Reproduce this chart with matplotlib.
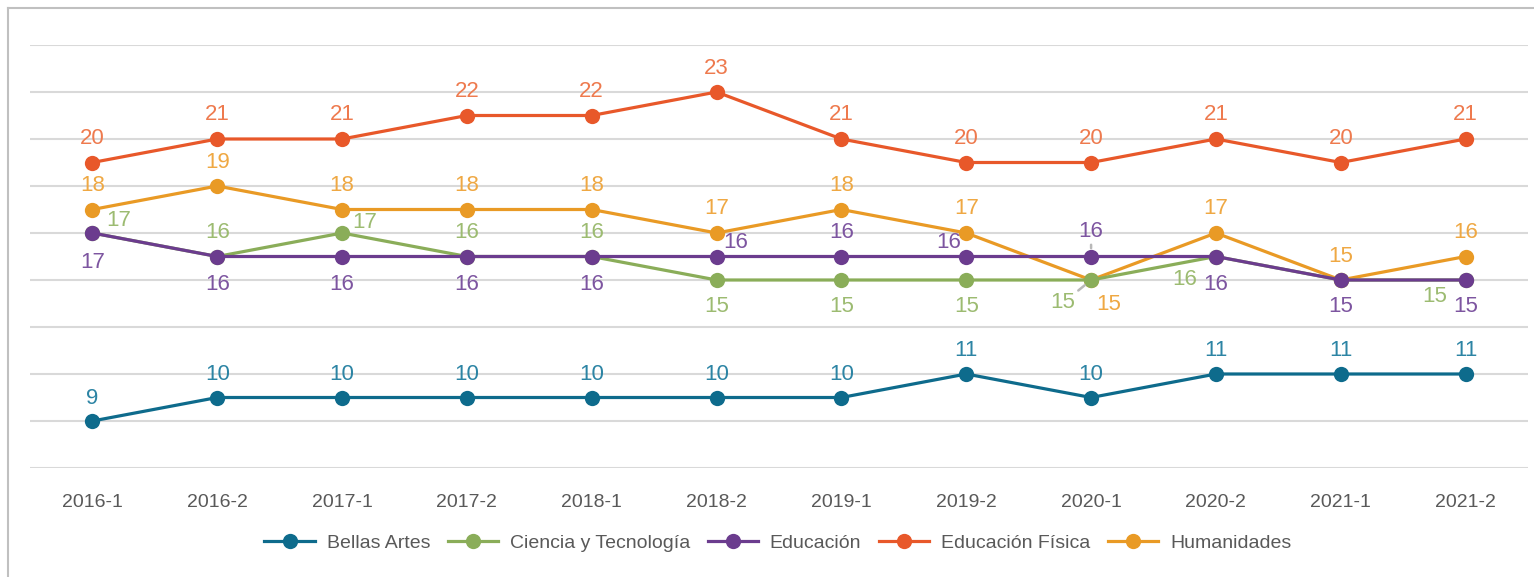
import matplotlib.pyplot as plt
from matplotlib.lines import Line2D

# periods on the x axis
periods = ['2016-1', '2016-2', '2017-1', '2017-2', '2018-1', '2018-2',
           '2019-1', '2019-2', '2020-1', '2020-2', '2021-1', '2021-2']

bellas_artes = [9, 10, 10, 10, 10, 10, 10, 11, 10, 11, 11, 11]
ciencia_tec = [17, 16, 17, 16, 16, 15, 15, 15, 15, 16, 15, 15]
educacion = [17, 16, 16, 16, 16, 16, 16, 16, 16, 16, 15, 15]
educ_fisica = [20, 21, 21, 22, 22, 23, 21, 20, 20, 21, 20, 21]
humanidades = [18, 19, 18, 18, 18, 17, 18, 17, 15, 17, 15, 16]

names = ['Bellas Artes', 'Ciencia y Tecnología', 'Educación',
         'Educación Física', 'Humanidades']

FONT = ['Liberation Sans Narrow', 'Liberation Sans', 'DejaVu Sans']
plt.rcParams['font.family'] = FONT

# (line colour, label colour, zorder)
styles = {
    'Bellas Artes': ('#0E6B8C', '#2C84A4', 3),
    'Ciencia y Tecnología': ('#8AAD59', '#9CBB71', 5),
    'Educación': ('#6B3C8E', '#7D55A0', 6),
    'Educación Física': ('#E8582A', '#EE7A4E', 3),
    'Humanidades': ('#E99A25', '#EFA843', 4),
}

# label offsets in pixels (dx, dy), None = no label
UP = (0, 24)
DOWN = (0, -26)
offsets = {
    'Bellas Artes': [(0, 23)] * 12,
    'Educación Física': [UP] * 12,
    'Humanidades': [UP] * 8 + [(18, -25), UP, UP, UP],
    'Ciencia y Tecnología': [(26, 12), UP, (23, 10), UP, UP, DOWN, DOWN, DOWN,
                             (-28, -23), (-31, -23), None, (-31, -17)],
    'Educación': [(0, -30), (0, -28), (0, -28), (0, -28), (0, -28), (19, 14),
                  UP, (-18, 14), (0, 25), (0, -28), DOWN, DOWN],
}
leaders = {('Educación', 8), ('Ciencia y Tecnología', 8)}

fig = plt.figure(figsize=(15.34, 5.77), dpi=100)
ax = fig.add_axes([30 / 1534, 1 - 468 / 577, 1498 / 1534, 423 / 577])

series = [bellas_artes, ciencia_tec, educacion, educ_fisica, humanidades]
x = list(range(len(periods)))
px = 72 / 100  # pixels -> points

for name, vals in zip(names, series):
    lc, tc, z = styles[name]
    ax.plot(x, vals, color=lc, lw=2.3, marker='o', markersize=11,
            markeredgewidth=0, zorder=z, label=name, clip_on=False)
    for i, v in enumerate(vals):
        off = offsets[name][i]
        if off is None:
            continue
        arrow = None
        if (name, i) in leaders:
            arrow = dict(arrowstyle='-', color='#B8B8B8', lw=1.8,
                         shrinkA=0, shrinkB=6)
        ax.annotate(str(v), (i, v), xytext=(off[0] * px, off[1] * px),
                    textcoords='offset points', ha='center', va='center',
                    fontsize=16, color=tc, zorder=7, arrowprops=arrow)

ax.set_xlim(-0.5, len(periods) - 0.5)
ax.set_ylim(7, 25)
ax.set_yticks(range(7, 26, 2))
ax.set_yticklabels([])
ax.yaxis.grid(True, color='#D9D9D9', lw=1.5)
ax.set_axisbelow(True)
ax.tick_params(axis='both', length=0)
ax.tick_params(axis='x', pad=19, labelsize=14, labelcolor='#595959')
ax.set_xticks(x)
ax.set_xticklabels(periods)
for s in ax.spines.values():
    s.set_visible(False)

handles, labels = ax.get_legend_handles_labels()
fig.legend(handles, labels, loc='center', bbox_to_anchor=(0.507, 1 - 543 / 577),
           ncol=5, frameon=False, fontsize=14, handlelength=2.6,
           handletextpad=0.6, columnspacing=0.9, labelcolor='#595959')

# outer chart frame (left and top edges visible)
fig.add_artist(Line2D([8 / 1534, 8 / 1534], [0, 1 - 8 / 577],
                      transform=fig.transFigure, color='#C0C0C0', lw=1.5))
fig.add_artist(Line2D([8 / 1534, 1], [1 - 8 / 577, 1 - 8 / 577],
                      transform=fig.transFigure, color='#C0C0C0', lw=1.5))

fig.savefig('out.png', dpi=100, facecolor='white')
